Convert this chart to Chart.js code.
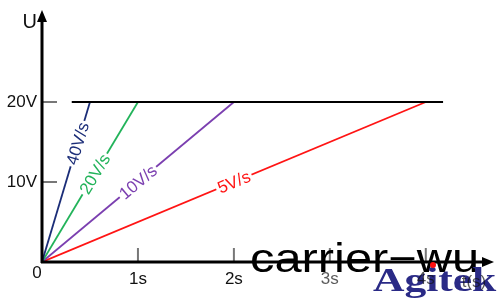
<!DOCTYPE html>
<html>
<head>
<meta charset="utf-8">
<script src="https://cdn.jsdelivr.net/npm/chart.js@4"></script>
<style>
  html, body { margin: 0; padding: 0; background: #fff; }
  #wrap { width: 500px; height: 300px; }
</style>
</head>
<body>
<div id="wrap"><canvas id="rampChart" width="500" height="300"></canvas></div>
<script>
// ─── Data ───
const rateLabels = ['40V/s', '20V/s', '10V/s', '5V/s'];
const rateColors = ['#1b2d78', '#22b35a', '#7b3fb0', '#ff1414'];
const rampEnd = [0.5, 1, 2, 4];          // seconds to reach target
const targetV = 20;
const labelAt = [0.37, 0.55, 1.0, 2.0];   // time where the slope label sits
const flatLine = [0.31, 4.18];            // start / end of the 20V line
const xTicks = [1, 2, 3, 4];
const xTickLabels = ['1s', '2s', '3s', '4s'];
const yTicks = [10, 20];
const yTickLabels = ['10V', '20V'];

const FONT = '"Liberation Sans", Arial, sans-serif';

const datasets = rateLabels.map((name, i) => ({
    label: name,
    data: [{ x: 0, y: 0 }, { x: rampEnd[i], y: targetV }],
    borderColor: rateColors[i],
    borderWidth: 1.8,
    pointRadius: 0,
    showLine: true,
    order: 2
}));
datasets.push({
    label: 'target',
    data: [{ x: flatLine[0], y: targetV }, { x: flatLine[1], y: targetV }],
    borderColor: '#000',
    borderWidth: 2,
    pointRadius: 0,
    showLine: true,
    order: 1
});

// ─── Axes, slope labels, watermark ───
const sketchPlugin = {
    id: 'sketch',
    afterDatasetsDraw(chart) {
        const { ctx, scales: { x, y } } = chart;
        const x0 = x.getPixelForValue(0), y0 = y.getPixelForValue(0);

        // slope labels along lines
        rateLabels.forEach((name, i) => {
            const t = labelAt[i];
            const v = targetV * t / rampEnd[i];
            const px = x.getPixelForValue(t), py = y.getPixelForValue(v);
            const ang = Math.atan2(y.getPixelForValue(targetV) - y0, x.getPixelForValue(rampEnd[i]) - x0);
            ctx.save();
            ctx.translate(px, py);
            ctx.rotate(ang);
            ctx.font = `17px ${FONT}`;
            const w = ctx.measureText(name).width;
            ctx.fillStyle = '#fff';
            ctx.fillRect(-w / 2 - 2, -8, w + 4, 16);
            ctx.fillStyle = rateColors[i];
            ctx.textAlign = 'center';
            ctx.textBaseline = 'middle';
            ctx.fillText(name, 0, 1);
            ctx.restore();
        });

        ctx.save();
        // tick marks
        ctx.strokeStyle = '#777';
        ctx.lineWidth = 2;
        yTicks.forEach(v => {
            const py = y.getPixelForValue(v);
            ctx.beginPath(); ctx.moveTo(x0, py); ctx.lineTo(x0 + 15, py); ctx.stroke();
        });
        xTicks.forEach(t => {
            const px = x.getPixelForValue(t);
            ctx.beginPath(); ctx.moveTo(px, y0); ctx.lineTo(px, y0 - 14); ctx.stroke();
        });

        // axes
        ctx.strokeStyle = '#000';
        ctx.fillStyle = '#000';
        ctx.lineWidth = 3;
        const top = chart.chartArea.top, right = chart.chartArea.right;
        ctx.beginPath();
        ctx.moveTo(x0, y0 + 1); ctx.lineTo(x0, top + 8);
        ctx.moveTo(x0 - 1, y0); ctx.lineTo(right - 6, y0);
        ctx.stroke();
        ctx.beginPath();
        ctx.moveTo(x0, top); ctx.lineTo(x0 - 5, top + 12); ctx.lineTo(x0 + 5, top + 12); ctx.closePath();
        ctx.fill();
        ctx.beginPath();
        ctx.moveTo(right + 2, y0); ctx.lineTo(right - 10, y0 - 5); ctx.lineTo(right - 10, y0 + 5); ctx.closePath();
        ctx.fill();

        // watermark
        ctx.textAlign = 'left';
        ctx.textBaseline = 'alphabetic';
        ctx.fillStyle = '#000';
        ctx.save();
        ctx.translate(250, 272);
        ctx.scale(1.22, 1);
        ctx.font = `40px ${FONT}`;
        ctx.fillText('carrier\u2212wu', 0, 0);
        ctx.restore();
        ctx.save();
        ctx.translate(373, 291);
        ctx.scale(1.28, 1);
        ctx.fillStyle = '#2a2a86';
        ctx.font = `bold 34px "Liberation Serif", "DejaVu Serif", serif`;
        ctx.fillText('Agitek', 0, 0);
        ctx.restore();
        ctx.fillStyle = '#ff1010';
        ctx.beginPath(); ctx.arc(433, 265, 3, 0, Math.PI * 2); ctx.fill();

        // tick labels (on top of the watermark, as in the source)
        ctx.font = `17px ${FONT}`;
        ctx.fillStyle = '#111';
        ctx.textBaseline = 'middle';
        ctx.textAlign = 'right';
        yTicks.forEach((v, i) => ctx.fillText(yTickLabels[i], x0 - 5, y.getPixelForValue(v)));
        ctx.font = `20px ${FONT}`;
        ctx.fillText('U', x0 - 5, top + 12);
        ctx.font = `17px ${FONT}`;
        ctx.textAlign = 'center';
        ctx.textBaseline = 'top';
        ctx.fillText('0', x0 - 5, y0 + 3);
        xTicks.forEach((t, i) => {
            ctx.globalAlpha = t > 2 ? 0.7 : 1;
            ctx.fillText(xTickLabels[i], x.getPixelForValue(t), y0 + 9);
        });
        ctx.globalAlpha = 0.7;
        ctx.fillText('t(s)', 474, y0 + 12);
        ctx.restore();
    }
};

new Chart(document.getElementById('rampChart'), {
    type: 'scatter',
    data: { datasets },
    options: {
        responsive: false,
        animation: false,
        layout: { padding: { left: 42, right: 8, top: 10, bottom: 38 } },
        plugins: { legend: { display: false }, tooltip: { enabled: false } },
        scales: {
            x: { type: 'linear', display: false, min: 0, max: 4.69 },
            y: { type: 'linear', display: false, min: 0, max: 31.5 }
        }
    },
    plugins: [sketchPlugin]
});
</script>
</body>
</html>
